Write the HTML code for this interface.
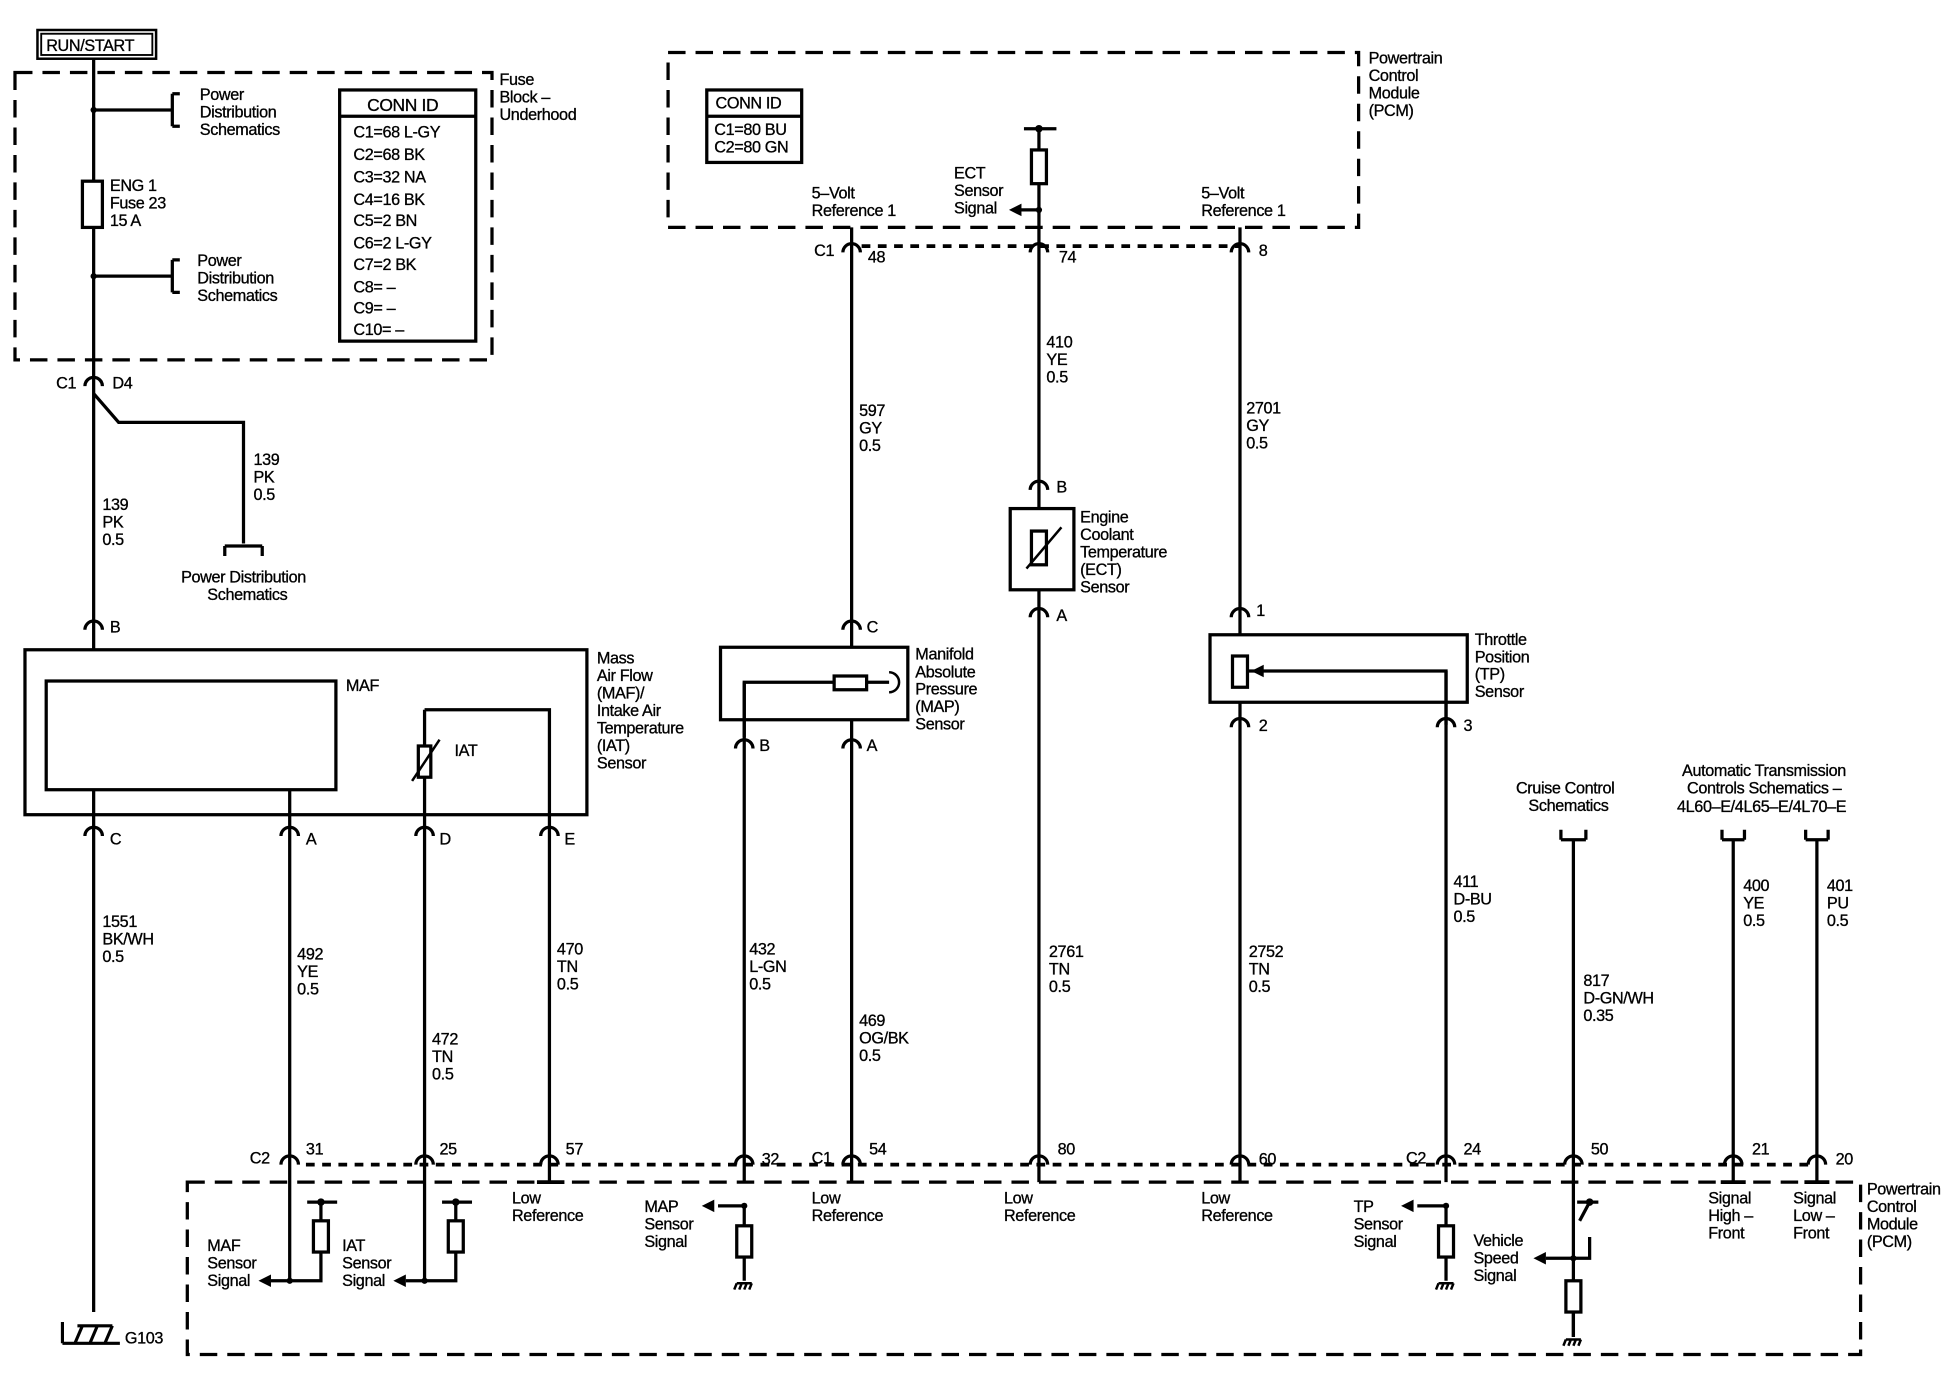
<!DOCTYPE html>
<html><head><meta charset="utf-8"><style>
html,body{margin:0;padding:0;background:#fff}
svg{display:block}
text{font-family:"Liberation Sans",sans-serif;font-size:13px;fill:#000;letter-spacing:-0.3px;stroke:#000;stroke-width:0.25px}
</style></head><body>
<svg width="1958" height="1392" viewBox="0 0 1568 1114" preserveAspectRatio="none" xmlns="http://www.w3.org/2000/svg">
<defs>
<g id="cn"><path d="M-7,4 A7,7 0 0 1 7,4" fill="none" stroke="#000" stroke-width="2.6"/></g>
<g id="gnd"><path d="M-6,0 L6,0 M-6,0 l-2,5 M-2,0 l-2,5 M2,0 l-2,5 M6,0 l-2,5" stroke="#000" stroke-width="2" fill="none"/></g>
<polygon id="arl" points="0,0 10,-5 10,5" fill="#000"/>
</defs>
<g fill="none" stroke="#000" stroke-width="2.6">
<rect x="30" y="24" width="95" height="23" stroke-width="2"/>
<rect x="33" y="27" width="89" height="17" stroke-width="1.5"/>
<rect x="12" y="58" width="382" height="230" stroke-dasharray="14,8"/>
<rect x="535" y="42" width="553" height="140" stroke-dasharray="14,8"/>
<rect x="150" y="946" width="1340" height="138" stroke-dasharray="14,8"/>
<path d="M75,47 V520"/>
<path d="M75,88 H138 M138,75 V101 M138,75 h6 M138,101 h6 M75,221 H138 M138,208 V234 M138,208 h6 M138,234 h6"/>
<rect x="66" y="145" width="16" height="37" fill="#fff"/>
<path d="M75,315 L95,338 H195 V435 M180,437 H210 M180,437 v8 M210,437 v8"/>
<rect x="272" y="72" width="109" height="201"/>
<path d="M272,93 H381"/>
<rect x="566" y="72" width="76" height="58"/>
<path d="M566,93 H642"/>
<rect x="20" y="520" width="450" height="132"/>
<rect x="37" y="545" width="232" height="87"/>
<path d="M75,632 V1050 M232,632 V1025 M340,568 V1025 M340,568 H440 V946"/>
<rect x="335" y="597" width="10" height="25" fill="#fff"/>
<path d="M330,625 L352,592" stroke-width="2"/>
<path d="M245,932 H1455 M690,197 H993" stroke-dasharray="7,6" stroke-width="3"/>
<path d="M682,182 V518 M832,103 V407 M993,182 V508 M682,576 V946 M596,546 V946 M832,472 V946 M993,562 V946 M1158,537 V946"/>
<rect x="826" y="120" width="12" height="27" fill="#fff"/>
<path d="M820,103 H846 M832,168 H815"/>
<rect x="577" y="518" width="150" height="58"/>
<path d="M596,590 V546 H668 M694,546 H712"/>
<rect x="668" y="541" width="26" height="11" fill="#fff"/>
<path d="M712,538 A8,8 0 0 1 712,554" stroke-width="2"/>
<rect x="809" y="407" width="51" height="65"/>
<rect x="826" y="425" width="12" height="27" fill="#fff"/>
<path d="M822,455 L850,422" stroke-width="2"/>
<rect x="969" y="508" width="206" height="54"/>
<rect x="987" y="525" width="12" height="25" fill="#fff"/>
<path d="M999,537 H1158 V580"/>
<path d="M1260,672 V1070 M1250,672 H1270 M1250,672 v-8 M1270,672 v-8 M1388,672 V946 M1379,672 H1397 M1379,672 v-8 M1397,672 v-8 M1455,672 V946 M1446,672 H1464 M1446,672 v-8 M1464,672 v-8"/>
<path d="M232,1025 H257 V968 M246,962 H270 M257,962 V975 M232,1025 H217"/>
<rect x="251" y="977" width="12" height="25" fill="#fff"/>
<path d="M340,1025 H365 V968 M354,962 H378 M365,962 V975 M340,1025 H325"/>
<rect x="359" y="977" width="12" height="25" fill="#fff"/>
<path d="M596,965 H575 M596,965 V1025"/>
<rect x="590" y="981" width="12" height="25" fill="#fff"/>
<path d="M1158,965 H1135 M1158,965 V1025"/>
<rect x="1152" y="981" width="12" height="25" fill="#fff"/>
<path d="M1260,1007 H1238 M1260,1007 H1273 V990 M1260,1025 V1070 M1263,962 H1280 M1273,962 L1265,977"/>
<rect x="1254" y="1025" width="12" height="25" fill="#fff"/>
<path d="M430,946 H452 M1378,946 H1398 M1445,946 H1465" stroke-width="3"/>
</g>
<polygon points="1002,537 1012,532 1012,542" fill="#000"/>
<use href="#arl" x="808" y="168"/>
<use href="#arl" x="207" y="1025"/>
<use href="#arl" x="315" y="1025"/>
<use href="#arl" x="562" y="965"/>
<use href="#arl" x="1122" y="965"/>
<use href="#arl" x="1228" y="1007"/>
<g fill="#000">
<circle cx="75" cy="88" r="2.5"/><circle cx="75" cy="221" r="2.5"/><circle cx="832" cy="168" r="2.5"/>
<circle cx="232" cy="1025" r="2.5"/><circle cx="340" cy="1025" r="2.5"/><circle cx="596" cy="965" r="2.5"/>
<circle cx="1158" cy="965" r="2.5"/><circle cx="1260" cy="1007" r="2.5"/><circle cx="832" cy="103" r="3"/>
<circle cx="257" cy="962" r="3"/><circle cx="365" cy="962" r="3"/><circle cx="1273" cy="962" r="3"/>
</g>
<use href="#gnd" x="596" y="1027"/><use href="#gnd" x="1158" y="1027"/><use href="#gnd" x="1260" y="1072"/>
<g stroke="#000" stroke-width="2.5" fill="none"><path d="M50,1075 H96 M50,1075 V1058 M60,1075 l6,-14 M72,1075 l6,-14 M84,1075 l6,-14 M62,1061 H90"/></g>
<g>
<use href="#cn" x="75" y="305"/><use href="#cn" x="75" y="500"/>
<use href="#cn" x="75" y="665"/><use href="#cn" x="232" y="665"/><use href="#cn" x="340" y="665"/><use href="#cn" x="440" y="665"/>
<use href="#cn" x="682" y="198"/><use href="#cn" x="832" y="198"/><use href="#cn" x="993" y="198"/>
<use href="#cn" x="832" y="388"/><use href="#cn" x="832" y="490"/>
<use href="#cn" x="682" y="500"/><use href="#cn" x="596" y="595"/><use href="#cn" x="682" y="595"/>
<use href="#cn" x="993" y="490"/><use href="#cn" x="993" y="578"/><use href="#cn" x="1158" y="578"/>
<use href="#cn" x="232" y="928"/><use href="#cn" x="340" y="928"/><use href="#cn" x="440" y="928"/><use href="#cn" x="596" y="928"/>
<use href="#cn" x="682" y="928"/><use href="#cn" x="832" y="928"/><use href="#cn" x="993" y="928"/><use href="#cn" x="1158" y="928"/>
<use href="#cn" x="1260" y="928"/><use href="#cn" x="1388" y="928"/><use href="#cn" x="1455" y="928"/>
</g>
<text x="37" y="41">RUN/START</text>
<text x="160" y="80">Power</text><text x="160" y="94">Distribution</text><text x="160" y="108">Schematics</text>
<text x="158" y="213">Power</text><text x="158" y="227">Distribution</text><text x="158" y="241">Schematics</text>
<text x="88" y="153">ENG 1</text><text x="88" y="167">Fuse 23</text><text x="88" y="181">15 A</text>
<text x="400" y="68">Fuse</text><text x="400" y="82">Block –</text><text x="400" y="96">Underhood</text>
<text x="294" y="89" style="font-size:14px">CONN ID</text>
<g style="font-size:14px"><text x="283" y="110">C1=68 L-GY</text><text x="283" y="128">C2=68 BK</text><text x="283" y="146">C3=32 NA</text><text x="283" y="164">C4=16 BK</text><text x="283" y="181">C5=2 BN</text><text x="283" y="199">C6=2 L-GY</text><text x="283" y="216">C7=2 BK</text><text x="283" y="234">C8= –</text><text x="283" y="251">C9= –</text><text x="283" y="268">C10= –</text></g>
<text x="573" y="87">CONN ID</text><text x="572" y="108">C1=80 BU</text><text x="572" y="122">C2=80 GN</text>
<text x="1096" y="51">Powertrain</text><text x="1096" y="65">Control</text><text x="1096" y="79">Module</text><text x="1096" y="93">(PCM)</text>
<text x="45" y="311">C1</text><text x="90" y="311">D4</text>
<text x="203" y="372">139</text><text x="203" y="386">PK</text><text x="203" y="400">0.5</text>
<text x="145" y="466">Power Distribution</text><text x="166" y="480">Schematics</text>
<text x="82" y="408">139</text><text x="82" y="422">PK</text><text x="82" y="436">0.5</text>
<text x="88" y="506">B</text>
<text x="277" y="553">MAF</text><text x="364" y="605">IAT</text>
<text x="478" y="531">Mass</text><text x="478" y="545">Air Flow</text><text x="478" y="559">(MAF)/</text><text x="478" y="573">Intake Air</text><text x="478" y="587">Temperature</text><text x="478" y="601">(IAT)</text><text x="478" y="615">Sensor</text>
<text x="88" y="676">C</text><text x="245" y="676">A</text><text x="352" y="676">D</text><text x="452" y="676">E</text>
<text x="82" y="742">1551</text><text x="82" y="756">BK/WH</text><text x="82" y="770">0.5</text>
<text x="238" y="768">492</text><text x="238" y="782">YE</text><text x="238" y="796">0.5</text>
<text x="346" y="836">472</text><text x="346" y="850">TN</text><text x="346" y="864">0.5</text>
<text x="446" y="764">470</text><text x="446" y="778">TN</text><text x="446" y="792">0.5</text>
<text x="764" y="143">ECT</text><text x="764" y="157">Sensor</text><text x="764" y="171">Signal</text>
<text x="650" y="159">5–Volt</text><text x="650" y="173">Reference 1</text>
<text x="962" y="159">5–Volt</text><text x="962" y="173">Reference 1</text>
<text x="652" y="205">C1</text><text x="695" y="210">48</text><text x="848" y="210">74</text><text x="1008" y="205">8</text>
<text x="688" y="333">597</text><text x="688" y="347">GY</text><text x="688" y="361">0.5</text>
<text x="838" y="278">410</text><text x="838" y="292">YE</text><text x="838" y="306">0.5</text>
<text x="998" y="331">2701</text><text x="998" y="345">GY</text><text x="998" y="359">0.5</text>
<text x="846" y="394">B</text><text x="846" y="497">A</text>
<text x="865" y="418">Engine</text><text x="865" y="432">Coolant</text><text x="865" y="446">Temperature</text><text x="865" y="460">(ECT)</text><text x="865" y="474">Sensor</text>
<text x="694" y="506">C</text><text x="608" y="601">B</text><text x="694" y="601">A</text>
<text x="733" y="528">Manifold</text><text x="733" y="542">Absolute</text><text x="733" y="556">Pressure</text><text x="733" y="570">(MAP)</text><text x="733" y="584">Sensor</text>
<text x="1006" y="493">1</text><text x="1008" y="585">2</text><text x="1172" y="585">3</text>
<text x="1181" y="516">Throttle</text><text x="1181" y="530">Position</text><text x="1181" y="544">(TP)</text><text x="1181" y="558">Sensor</text>
<text x="1214" y="635">Cruise Control</text><text x="1224" y="649">Schematics</text>
<text x="1347" y="621">Automatic Transmission</text><text x="1351" y="635">Controls Schematics –</text><text x="1343" y="650">4L60–E/4L65–E/4L70–E</text>
<text x="600" y="764">432</text><text x="600" y="778">L-GN</text><text x="600" y="792">0.5</text>
<text x="688" y="821">469</text><text x="688" y="835">OG/BK</text><text x="688" y="849">0.5</text>
<text x="840" y="766">2761</text><text x="840" y="780">TN</text><text x="840" y="794">0.5</text>
<text x="1000" y="766">2752</text><text x="1000" y="780">TN</text><text x="1000" y="794">0.5</text>
<text x="1164" y="710">411</text><text x="1164" y="724">D-BU</text><text x="1164" y="738">0.5</text>
<text x="1268" y="789">817</text><text x="1268" y="803">D-GN/WH</text><text x="1268" y="817">0.35</text>
<text x="1396" y="713">400</text><text x="1396" y="727">YE</text><text x="1396" y="741">0.5</text>
<text x="1463" y="713">401</text><text x="1463" y="727">PU</text><text x="1463" y="741">0.5</text>
<text x="200" y="931">C2</text><text x="245" y="924">31</text><text x="352" y="924">25</text><text x="453" y="924">57</text><text x="610" y="932">32</text>
<text x="650" y="931">C1</text><text x="696" y="924">54</text><text x="847" y="924">80</text><text x="1008" y="932">60</text>
<text x="1126" y="931">C2</text><text x="1172" y="924">24</text><text x="1274" y="924">50</text><text x="1403" y="924">21</text><text x="1470" y="932">20</text>
<text x="410" y="963">Low</text><text x="410" y="977">Reference</text>
<text x="650" y="963">Low</text><text x="650" y="977">Reference</text>
<text x="804" y="963">Low</text><text x="804" y="977">Reference</text>
<text x="962" y="963">Low</text><text x="962" y="977">Reference</text>
<text x="166" y="1001">MAF</text><text x="166" y="1015">Sensor</text><text x="166" y="1029">Signal</text>
<text x="274" y="1001">IAT</text><text x="274" y="1015">Sensor</text><text x="274" y="1029">Signal</text>
<text x="516" y="970">MAP</text><text x="516" y="984">Sensor</text><text x="516" y="998">Signal</text>
<text x="1084" y="970">TP</text><text x="1084" y="984">Sensor</text><text x="1084" y="998">Signal</text>
<text x="1180" y="997">Vehicle</text><text x="1180" y="1011">Speed</text><text x="1180" y="1025">Signal</text>
<text x="1368" y="963">Signal</text><text x="1368" y="977">High –</text><text x="1368" y="991">Front</text>
<text x="1436" y="963">Signal</text><text x="1436" y="977">Low –</text><text x="1436" y="991">Front</text>
<text x="1495" y="956">Powertrain</text><text x="1495" y="970">Control</text><text x="1495" y="984">Module</text><text x="1495" y="998">(PCM)</text>
<text x="100" y="1075">G103</text>
</svg>
</body></html>
